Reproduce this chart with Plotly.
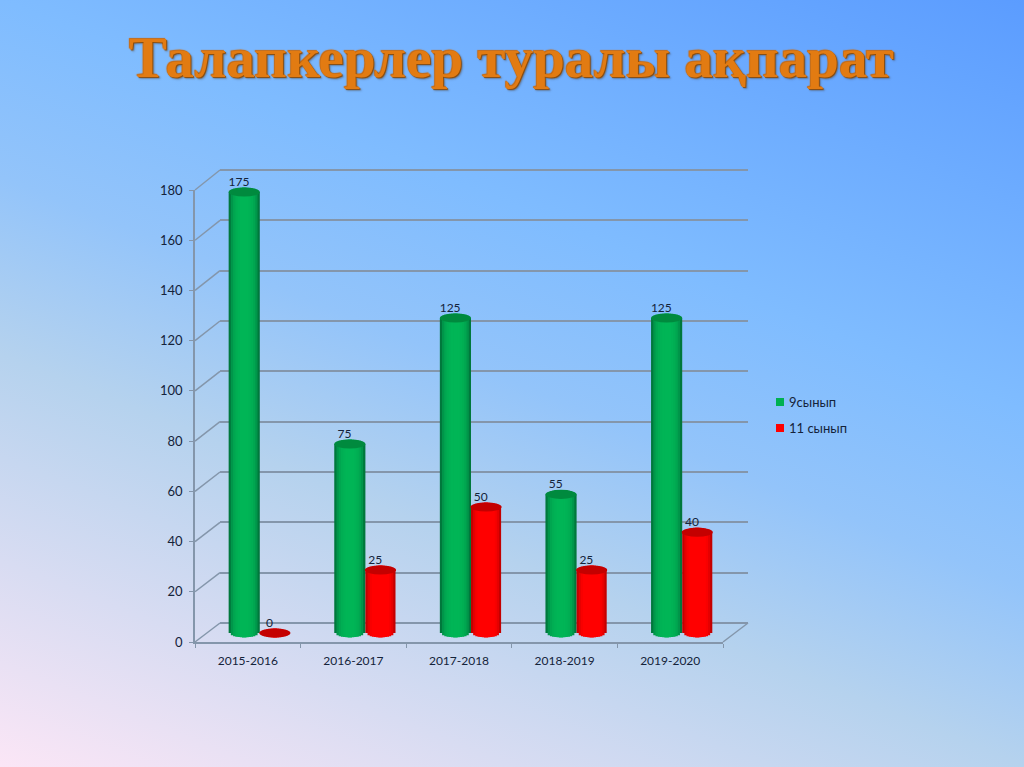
#!/usr/bin/env python3
import math
from urllib.parse import quote

import plotly.graph_objects as go

years = ['2015-2016', '2016-2017', '2017-2018', '2018-2019', '2019-2020']
grade9 = [175, 75, 125, 55, 125]
grade11 = [0, 25, 50, 25, 40]
y_ticks = [0, 20, 40, 60, 80, 100, 120, 140, 160, 180]

W, H = 1024, 767
FONT = 'Lato'
INK = '#14233a'
GRID = '#8496ab'
CAP_RY = 1.8      # half height of a cylinder cap, in axis units
BAR_W = 0.295

GREENS = ['#00783c', '#00964a', '#00a650', '#00ae53', '#00b255', '#00b556', '#00b556']
REDS = ['#c40000', '#e60000', '#f80000', '#ff0000', '#ff0000', '#ff0000', '#ff0000']
GREEN_CAP = '#008a3e'
RED_CAP = '#c40000'

BG = ('<svg xmlns="http://www.w3.org/2000/svg" width="1024" height="767">'
      '<defs><linearGradient id="g" gradientUnits="userSpaceOnUse" x1="0" y1="767" x2="408" y2="-250">'
      '<stop offset="0" stop-color="#fbe6f6"/>'
      '<stop offset="0.35" stop-color="#b5d2ee"/>'
      '<stop offset="0.5" stop-color="#93c4fa"/>'
      '<stop offset="0.65" stop-color="#7fbcff"/>'
      '<stop offset="1" stop-color="#5b9cff"/>'
      '</linearGradient></defs><rect width="1024" height="767" fill="url(#g)"/></svg>')


def px_x(x):
    return x / W


def px_y(y):
    return 1 - y / H


def wall_line(x0, y0, x1, y1, width=1.5):
    return dict(type='line', xref='paper', yref='paper', layer='below',
                x0=px_x(x0), y0=px_y(y0), x1=px_x(x1), y1=px_y(y1),
                line=dict(color=GRID, width=width))


def padded_axis(zero_px, top_px, top_value, pad):
    # domain and range for an axis running a bit past its ends, so nothing gets clipped there
    scale = (zero_px - top_px) / top_value
    return dict(domain=[px_y(zero_px + pad * scale), px_y(top_px - pad * scale)],
                range=[-pad, top_value + pad])


def add_cylinders(fig, values, left, width, shades):
    # nested bars, widest first, give the round shading and the curved foot
    n = len(shades)
    centers = [i + left + width / 2 for i in range(len(values))]
    for k, color in enumerate(shades):
        t = 1 - k / n
        bulge = CAP_RY * math.sqrt(1 - t * t)
        fig.add_trace(go.Bar(
            x=centers, y=[v + 2 * bulge for v in values], base=[-bulge] * len(values),
            width=width * t, marker=dict(color=color, line=dict(width=0)),
            xaxis='x2', yaxis='y2', showlegend=False, hoverinfo='skip',
        ))
    return centers


fig = go.Figure()

# back wall grid lives on its own axes, needs one trace to exist
fig.add_trace(go.Scatter(x=[0], y=[0], mode='markers', marker=dict(opacity=0),
                         xaxis='x', yaxis='y', showlegend=False, hoverinfo='skip'))

green_x = add_cylinders(fig, grade9, -BAR_W, BAR_W, GREENS)
red_x = add_cylinders(fig, grade11, 0, BAR_W - 0.01, REDS)

fig.add_trace(go.Scatter(x=[c - 0.05 for c in green_x], y=[v + 1.2 for v in grade9], text=grade9,
                         mode='text', textposition='top center',
                         textfont=dict(family=FONT, size=12, color=INK),
                         xaxis='x2', yaxis='y2', showlegend=False))
fig.add_trace(go.Scatter(x=[c - 0.05 for c in red_x], y=[v + 1.2 for v in grade11], text=grade11,
                         mode='text', textposition='top center',
                         textfont=dict(family=FONT, size=12, color=INK),
                         xaxis='x2', yaxis='y2', showlegend=False))

# front axes with the labels
fig.add_trace(go.Scatter(x=years, y=[0] * len(years), mode='markers', marker=dict(opacity=0),
                         xaxis='x3', yaxis='y3', showlegend=False, hoverinfo='skip'))

shapes = []
for v in y_ticks:
    s_front = 642 - v * (642 - 190) / 180
    s_back = 623 - v * (623 - 170) / 180
    shapes.append(wall_line(195, s_front, 220, s_back))
shapes.append(wall_line(723, 642, 748, 623))

for xs, vals, cap in ((green_x, grade9, GREEN_CAP), (red_x, grade11, RED_CAP)):
    half = BAR_W / 2
    for c, v in zip(xs, vals):
        shapes.append(dict(type='circle', xref='x2', yref='y2', layer='above',
                           x0=c - half, x1=c + half, y0=v - CAP_RY, y1=v + CAP_RY,
                           fillcolor=cap, line=dict(width=0)))

# legend, same spot and size as the slide
for top, color in ((398, '#00b050'), (424, '#ff0000')):
    shapes.append(dict(type='rect', xref='paper', yref='paper', layer='above',
                       x0=px_x(776), x1=px_x(784), y0=px_y(top + 8), y1=px_y(top),
                       fillcolor=color, line=dict(width=0)))

annotations = [
    dict(text='9сынып', x=px_x(787), y=px_y(402), xref='paper', yref='paper', xanchor='left', yanchor='middle',
         showarrow=False, font=dict(family=FONT, size=13, color=INK)),
    dict(text='11 сынып', x=px_x(787), y=px_y(428), xref='paper', yref='paper', xanchor='left', yanchor='middle',
         showarrow=False, font=dict(family=FONT, size=13, color=INK)),
    dict(text='<b>Талапкерлер туралы ақпарат</b>', x=px_x(511), y=px_y(58), xref='paper', yref='paper',
         yanchor='middle', showarrow=False,
         font=dict(family='Liberation Serif', size=57, color='#e27b12',
                   shadow='1px 1px 1px #8a4a08, -1px -1px 1px #c86a10, 2px 2px 2px rgba(60,60,60,0.35)')),
]

fig.update_layout(
    width=W, height=H, margin=dict(l=0, r=0, t=0, b=0),
    paper_bgcolor='rgba(0,0,0,0)', plot_bgcolor='rgba(0,0,0,0)',
    barmode='overlay', showlegend=False, hovermode=False,
    shapes=shapes, annotations=annotations,
    images=[dict(source='data:image/svg+xml,' + quote(BG), xref='paper', yref='paper',
                 x=0, y=1, sizex=1, sizey=1, sizing='stretch', layer='below')],

    # back wall
    xaxis=dict(domain=[px_x(220), px_x(748)], range=[-0.5, 4.5], visible=False, fixedrange=True, automargin=False),
    yaxis=dict(**padded_axis(623, 170, 180, 2), dtick=20, tick0=0, showgrid=True,
               gridcolor=GRID, gridwidth=2, zeroline=False, showticklabels=False, ticks='',
               showline=False, fixedrange=True, automargin=False),

    # cylinders stand halfway into the depth
    xaxis2=dict(domain=[px_x(207), px_x(735)], range=[-0.5, 4.5], visible=False, fixedrange=True, automargin=False),
    yaxis2=dict(**padded_axis(633, 633 - 2.52 * 180, 180, 6), visible=False, fixedrange=True, automargin=False),

    # front axes
    xaxis3=dict(domain=[px_x(195), px_x(723)], type='category', categoryorder='array', categoryarray=years,
                range=[-0.5, 4.5], anchor='y3', showline=True, linecolor=GRID, linewidth=1.5,
                ticks='outside', ticklen=4, tickcolor=GRID, showgrid=False, zeroline=False, automargin=False,
                tickson='boundaries', ticklabelstandoff=7,
                tickfont=dict(family=FONT, size=12, color=INK), fixedrange=True),
    yaxis3=dict(domain=[px_y(642), px_y(190)], range=[0, 180], tickvals=y_ticks, anchor='x3',
                showline=True, linecolor=GRID, linewidth=1.5, ticks='outside', ticklen=4, automargin=False,
                tickcolor=GRID, showgrid=False, zeroline=False, ticklabelstandoff=4,
                tickfont=dict(family=FONT, size=13, color=INK), fixedrange=True),
)

fig.write_html("out.html", config=dict(displayModeBar=False),
               post_script="document.body.style.margin='0';document.body.style.overflow='hidden';")
